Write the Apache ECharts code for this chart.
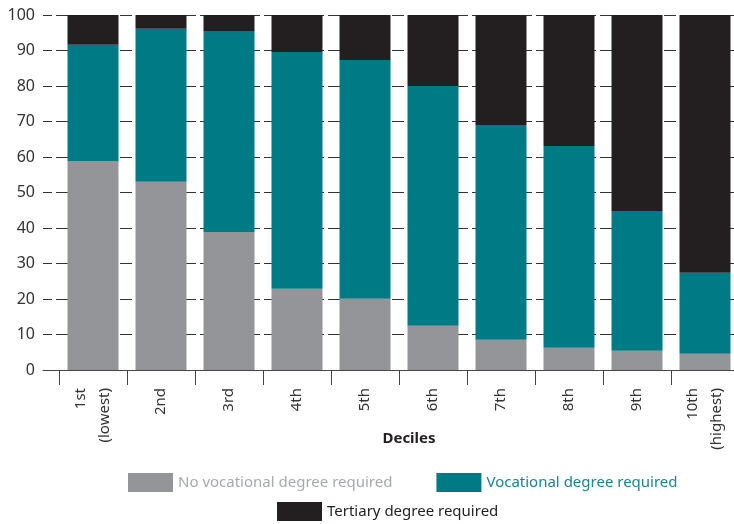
<!DOCTYPE html>
<html>
<head>
<meta charset="utf-8">
<script src="https://cdn.jsdelivr.net/npm/echarts@6/dist/echarts.min.js"></script>
<style>html,body{margin:0;padding:0;background:#fff}#c{width:734px;height:524px}</style>
</head>
<body>
<div id="c"></div>
<script>
const categories = ['1st\n(lowest)', '2nd', '3rd', '4th', '5th', '6th', '7th', '8th', '9th', '10th\n(highest)'];
const noVocational = [58.9, 53.0, 38.9, 22.9, 20.1, 12.5, 8.5, 6.3, 5.4, 4.6];
const vocational = [32.7, 43.1, 56.6, 66.7, 67.2, 67.5, 60.5, 56.8, 39.4, 22.8];
const tertiary = [8.4, 3.9, 4.5, 10.4, 12.7, 20.0, 31.0, 36.9, 55.2, 72.6];
const yTicks = [0, 100, 10];
const seriesNames = ['No vocational degree required', 'Vocational degree required', 'Tertiary degree required'];
const xTitle = 'Deciles';

const FONT = 'Noto Sans';
const C_GRAY = '#939598', C_TEAL = '#007a84', C_DARK = '#231f20';

const chart = echarts.init(document.getElementById('c'), null, {renderer: 'canvas'});
chart.setOption({
  animation: false,
  backgroundColor: '#fff',
  textStyle: {fontFamily: FONT},
  title: {
    text: xTitle, left: 409, top: 431, textAlign: 'center', padding: 0,
    textStyle: {fontFamily: FONT, fontSize: 15, fontWeight: 'bold', color: C_DARK}
  },
  grid: [
    {left: 43, right: 0, top: 15, bottom: 154, outerBoundsMode: 'none'},
    {left: 59, width: 680, top: 15, bottom: 154, outerBoundsMode: 'none'}
  ],
  xAxis: [
    {type: 'value', gridIndex: 0, min: 0, max: 1,
     axisLine: {show: true, lineStyle: {color: '#444', width: 1}},
     axisTick: {show: false}, axisLabel: {show: false}, splitLine: {show: false}},
    {type: 'category', gridIndex: 1, data: categories, boundaryGap: true,
     axisLine: {show: false},
     axisTick: {show: true, length: 15, interval: 0, lineStyle: {color: '#444', width: 1}},
     axisLabel: {rotate: 90, interval: 0, margin: 18, fontSize: 15, lineHeight: 24, color: '#333', fontFamily: FONT}}
  ],
  yAxis: [
    {type: 'value', gridIndex: 0, min: yTicks[0], max: yTicks[1], interval: yTicks[2],
     axisLine: {show: false}, axisTick: {show: false},
     axisLabel: {margin: 8, fontSize: 16, color: '#333', fontFamily: FONT},
     splitLine: {show: true, lineStyle: {color: '#333', width: 1, type: [12, 4], dashOffset: 3}}},
    {type: 'value', gridIndex: 1, min: yTicks[0], max: yTicks[1], interval: yTicks[2], show: false}
  ],
  legend: [
    {left: 128, top: 473, padding: 0, itemWidth: 45, itemHeight: 19, itemGap: 44, icon: 'rect', selectedMode: false,
     data: [
       {name: seriesNames[0], textStyle: {color: '#a7a9ac'}},
       {name: seriesNames[1], textStyle: {color: '#1a858d'}}
     ],
     textStyle: {fontSize: 15, fontFamily: FONT}},
    {left: 277, top: 502, padding: 0, itemWidth: 45, itemHeight: 19, icon: 'rect', selectedMode: false,
     data: [{name: seriesNames[2], textStyle: {color: C_DARK}}],
     textStyle: {fontSize: 15, fontFamily: FONT}}
  ],
  series: [
    {name: seriesNames[0], type: 'bar', stack: 's', xAxisIndex: 1, yAxisIndex: 1, barWidth: 51, data: noVocational, itemStyle: {color: C_GRAY}},
    {name: seriesNames[1], type: 'bar', stack: 's', xAxisIndex: 1, yAxisIndex: 1, barWidth: 51, data: vocational, itemStyle: {color: C_TEAL}},
    {name: seriesNames[2], type: 'bar', stack: 's', xAxisIndex: 1, yAxisIndex: 1, barWidth: 51, data: tertiary, itemStyle: {color: C_DARK}}
  ]
});
</script>
</body>
</html>
